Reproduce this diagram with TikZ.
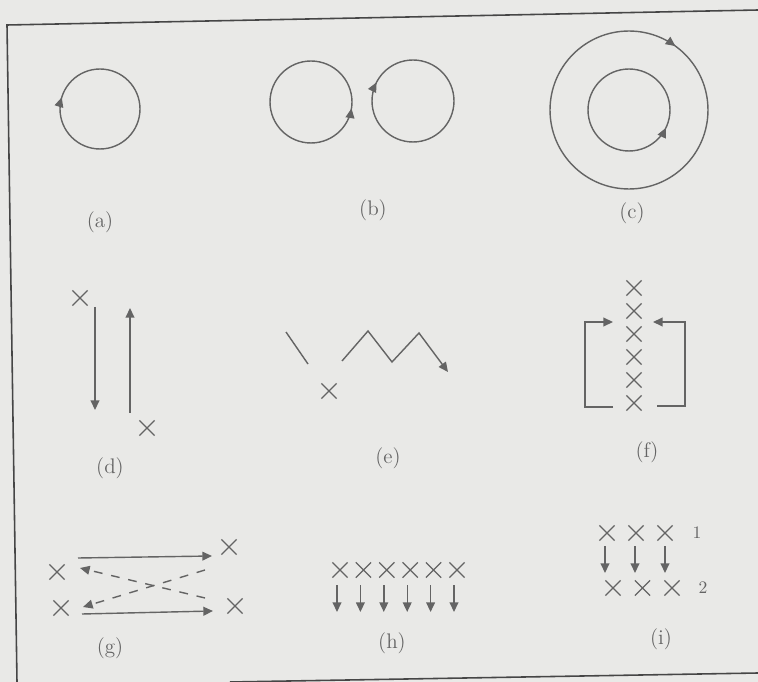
\documentclass[tikz,border=0pt]{standalone}
\usepackage{tikz}
\usetikzlibrary{arrows.meta,shapes.misc,decorations.markings}
\definecolor{paper}{RGB}{233,233,231}
\definecolor{ink}{RGB}{100,100,100}
\definecolor{rule}{RGB}{70,70,70}

\begin{document}
\begin{tikzpicture}[x=0.02cm, y=-0.02cm, line width=0.8pt, color=ink,
  cross/.style={draw=ink, cross out, minimum size=0.28cm, inner sep=0pt, line width=0.7pt},
  tip/.style={-{Triangle[length=5.5pt,width=5pt]}},
  lbl/.style={font=\large, text=ink},
  cw/.style={postaction={decorate}, decoration={markings, mark=at position #1 with {\arrowreversed{Triangle[length=5.5pt,width=5pt]}}}},
  ccw/.style={postaction={decorate}, decoration={markings, mark=at position #1 with {\arrow{Triangle[length=5.5pt,width=5pt]}}}}]
  \useasboundingbox (0,0) rectangle (758,682);
  \fill[paper] (0,0) rectangle (758,682);
  % frame of the page
  \draw[rule, line width=0.9pt] (17,682) -- (7,25) -- (758,10);
  \draw[rule, line width=0.9pt] (230,682) -- (758,673);

  % (a)
  \coordinate (ca) at (100,109);
  \draw[cw=0.453] (ca) circle (0.8cm);
  \node[lbl] (la) at (100,222) {(a)};

  % (b)
  \coordinate (cb1) at (311,102);
  \coordinate (cb2) at (413,101);
  \draw[ccw=0.975] (cb1) circle (0.82cm);
  \draw[cw=0.425] (cb2) circle (0.82cm);
  \node[lbl] (lb) at (373,210) {(b)};

  % (c)
  \coordinate (cc) at (629,110);
  \draw[cw=0.15] (cc) circle (1.58cm);
  \draw[ccw=0.928] (cc) circle (0.82cm);
  \node[lbl] (lc) at (632,213) {(c)};

  % (d)
  \node[cross] (d1) at (80,298) {};
  \node[cross] (d2) at (147,428) {};
  \coordinate (d1s) at (95,307);  \coordinate (d1e) at (95,410);
  \coordinate (d2s) at (130,413); \coordinate (d2e) at (130,308);
  \draw[tip] (d1s) -- (d1e);
  \draw[tip] (d2s) -- (d2e);
  \node[lbl] (ld) at (110,468) {(d)};

  % (e)
  \node[cross] (e1) at (329,391) {};
  \coordinate (e0a) at (286,332); \coordinate (e0b) at (308,364);
  \draw (e0a) -- (e0b);
  \coordinate (z0) at (342,361); \coordinate (z1) at (368,331);
  \coordinate (z2) at (392,362); \coordinate (z3) at (419,333);
  \coordinate (z4) at (448,372);
  \draw[tip] (z0) -- (z1) -- (z2) -- (z3) -- (z4);
  \node[lbl] (le) at (388,458) {(e)};

  % (f)
  \foreach \i in {0,...,5}
    \node[cross] (f\i) at (634,288+23*\i) {};
  \coordinate (fl0) at (613,407); \coordinate (fl1) at (585,407);
  \coordinate (fl2) at (585,322); \coordinate (fl3) at (613,322);
  \coordinate (fr0) at (657,406); \coordinate (fr1) at (685,406);
  \coordinate (fr2) at (685,322); \coordinate (fr3) at (653,322);
  \draw[tip] (fl0) -- (fl1) -- (fl2) -- (fl3);
  \draw[tip] (fr0) -- (fr1) -- (fr2) -- (fr3);
  \node[lbl] (lf) at (647,452) {(f)};

  % (g)
  \node[cross] (g1) at (57,572) {};
  \node[cross] (g2) at (61,608) {};
  \node[cross] (g3) at (229,547) {};
  \node[cross] (g4) at (235,606) {};
  \coordinate (gt0) at (78,558);  \coordinate (gt1) at (212,556);
  \coordinate (gb0) at (82,614);  \coordinate (gb1) at (213,611);
  \coordinate (gx0) at (205,598); \coordinate (gx1) at (80,568);
  \coordinate (gy0) at (205,570); \coordinate (gy1) at (83,607);
  \draw[tip] (gt0) -- (gt1);
  \draw[tip] (gb0) -- (gb1);
  \draw[tip, dash pattern=on 5pt off 5pt] (gx0) -- (gx1);
  \draw[tip, dash pattern=on 5pt off 5pt] (gy0) -- (gy1);
  \node[lbl] (lg) at (110,648) {(g)};

  % (h)
  \foreach \i in {0,...,5} {
    \node[cross] (h\i) at (340+23.4*\i,570) {};
    \coordinate (hs\i) at (337+23.4*\i,585);
    \coordinate (he\i) at (337+23.4*\i,612);
    \draw[tip] (hs\i) -- (he\i);
  }
  \node[lbl] (lh) at (392,643) {(h)};

  % (i)
  \foreach \i in {0,1,2} {
    \node[cross] (it\i) at (607+29*\i,533) {};
    \node[cross] (ib\i) at (613+29.5*\i,588) {};
    \coordinate (is\i) at (605+30*\i,546);
    \coordinate (ie\i) at (605+30*\i,573);
    \draw[tip] (is\i) -- (ie\i);
  }
  \node[text=ink] (i1) at (697,533) {1};
  \node[text=ink] (i2) at (703,588) {2};
  \node[lbl] (li) at (661,639) {(i)};
\end{tikzpicture}
\end{document}
